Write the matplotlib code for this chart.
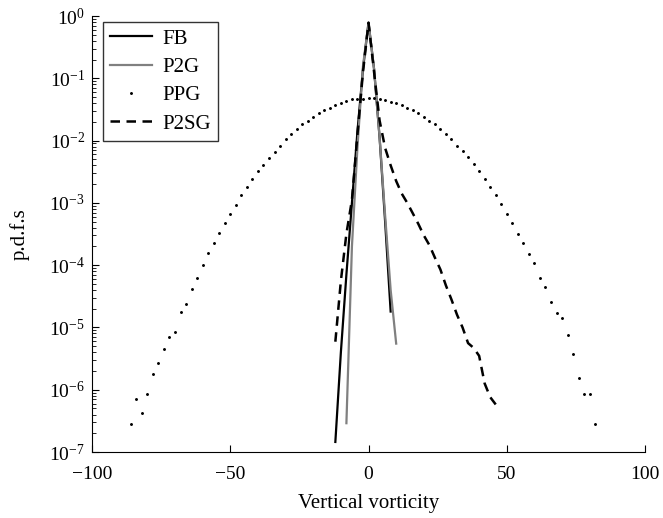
import matplotlib
matplotlib.use("Agg")
import matplotlib.pyplot as plt
import numpy as np

plt.rcParams['font.family'] = ['Liberation Serif', 'DejaVu Serif']
plt.rcParams['mathtext.fontset'] = 'stix'
plt.rcParams['font.size'] = 14

# FB: black solid
fb_x = [-12, -10, -8, -6, -4, -2, 0, 2, 4, 6, 8]
fb_p = [1.45e-7, 4.0e-6, 7.1e-5, 1.0e-3, 1.41e-2, 0.141, 0.78, 0.141, 1.12e-2, 5.0e-4, 1.8e-5]

# P2G: grey solid
p2g_x = [-8, -6, -4, -2, 0, 2, 4, 6, 8, 10]
p2g_p = [2.9e-7, 2.0e-4, 7.9e-3, 0.158, 0.78, 0.141, 1.12e-2, 6.3e-4, 4.0e-5, 5.5e-6]

# PPG: dots, bins of width 2 from -86 to 82
ppg_x = list(range(-86, 83, 2))
ppg_p = [2.8e-7, 7.1e-7, 4.3e-7, 8.5e-7, 1.8e-6, 2.7e-6, 4.5e-6, 6.9e-6, 8.5e-6, 1.8e-5,
         2.4e-5, 4.2e-5, 6.2e-5, 1.0e-4, 1.58e-4, 2.3e-4, 3.3e-4, 4.8e-4, 6.6e-4, 9.4e-4,
         1.32e-3, 1.78e-3, 2.4e-3, 3.2e-3, 4.1e-3, 5.2e-3, 6.6e-3, 8.3e-3, 1.05e-2, 1.26e-2,
         1.51e-2, 1.82e-2, 2.09e-2, 2.40e-2, 2.75e-2, 3.09e-2, 3.39e-2, 3.72e-2, 4.07e-2, 4.37e-2,
         4.57e-2, 4.68e-2, 4.72e-2, 4.79e-2, 4.75e-2, 4.68e-2, 4.47e-2, 4.22e-2, 3.98e-2, 3.72e-2,
         3.39e-2, 3.09e-2, 2.75e-2, 2.40e-2, 2.09e-2, 1.82e-2, 1.51e-2, 1.26e-2, 1.05e-2, 8.3e-3,
         6.8e-3, 5.4e-3, 4.2e-3, 3.2e-3, 2.4e-3, 1.78e-3, 1.32e-3, 9.5e-4, 6.6e-4, 4.8e-4,
         3.2e-4, 2.3e-4, 1.51e-4, 1.07e-4, 6.2e-5, 4.5e-5, 2.6e-5, 1.7e-5, 1.4e-5, 7.6e-6,
         3.8e-6, 1.55e-6, 8.5e-7, 8.5e-7, 2.8e-7]

# P2SG: black dashed
p2sg_x = list(range(-12, 47, 2))
p2sg_p = [5.9e-6, 5.6e-5, 3.2e-4, 1.12e-3, 1.26e-2, 0.126, 0.78, 0.126, 2.1e-2, 7.6e-3,
          4.0e-3, 2.24e-3, 1.41e-3, 1.0e-3, 6.8e-4, 4.6e-4, 3.0e-4, 2.1e-4, 1.32e-4, 8.5e-5,
          4.7e-5, 2.8e-5, 1.6e-5, 1.0e-5, 5.6e-6, 4.7e-6, 3.5e-6, 1.26e-6, 7.6e-7, 5.8e-7]

fig = plt.figure(figsize=(6.63, 5.18), dpi=100)
ax = fig.add_axes([0.1388, 0.1274, 0.8341, 0.8417])

ax.plot(fb_x, fb_p, color='black', lw=1.6, label='FB')
ax.plot(p2g_x, p2g_p, color='0.5', lw=1.6, label='P2G')
ax.plot(ppg_x, ppg_p, color='black', ls='none', marker='.', ms=2.2, label='PPG')
ax.plot(p2sg_x, p2sg_p, color='black', lw=1.8, dashes=(3.8, 2.6), label='P2SG')

ax.set_yscale('log')
ax.set_xlim(-100, 100)
ax.set_ylim(1e-7, 1e0)
ax.set_xticks([-100, -50, 0, 50, 100])
ax.set_yticks([10.0 ** k for k in range(-7, 1)])

ax.spines['top'].set_visible(False)
ax.spines['right'].set_visible(False)
ax.tick_params(which='major', direction='in', length=5, width=0.8)
ax.tick_params(which='minor', direction='in', length=3, width=0.6)
ax.tick_params(axis='x', which='minor', bottom=False)
ax.tick_params(axis='x', which='major', pad=10)
ax.tick_params(axis='y', which='major', pad=5)

ax.set_xlabel('Vertical vorticity', fontsize=15, labelpad=8)
ax.set_ylabel('p.d.f.s', fontsize=15, labelpad=14)

leg = ax.legend(loc='upper left', bbox_to_anchor=(0.02, 0.987), borderaxespad=0,
                frameon=True, fancybox=False, edgecolor='black', handlelength=2.0,
                handletextpad=0.5, borderpad=0.35, labelspacing=0.42, fontsize=15)
leg.get_frame().set_linewidth(1.0)

fig.savefig('out.png', dpi=100)
